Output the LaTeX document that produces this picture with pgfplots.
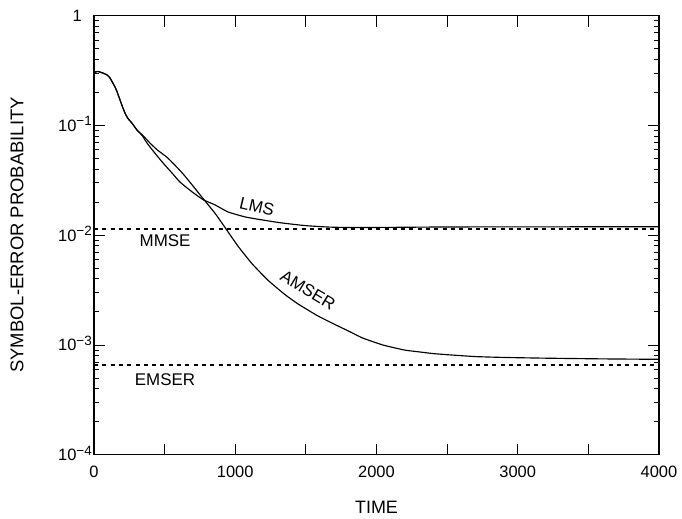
\documentclass[border=0pt]{standalone}
\usepackage{pgfplots}
\pgfplotsset{compat=1.18}
\usepackage{fontspec}
\setmainfont{Liberation Sans}
\newcommand{\ee}[1]{10\raisebox{5.5bp}{\fontsize{13.5}{13.5}\selectfont #1}}

\begin{document}
\begin{tikzpicture}
\useasboundingbox (0,0) rectangle (682bp,519bp);
\begin{axis}[
  at={(94bp,64.2bp)}, anchor=south west,
  width=565bp, height=439.1bp, scale only axis,
  ymode=log,
  xmin=0, xmax=4000, ymin=1e-4, ymax=1,
  xtick={0,500,...,4000},
  xticklabels={0,,1000,,2000,,3000,,4000},
  ytick={1e-4,1e-3,1e-2,1e-1,1},
  yticklabels={\ee{−4},\ee{−3},\ee{−2},\ee{−1},1\kern10bp},
  major tick length=11bp, minor tick length=5bp,
  axis line style={line width=1.3bp},
  every tick/.style={black, line width=1bp},
  tick label style={font=\fontsize{16.5}{16.5}\selectfont, inner sep=0pt},
  xticklabel style={anchor=base, yshift=-23bp},
  yticklabel style={anchor=base east, xshift=-2bp, yshift=-5.8bp},
  clip=false,
]
% LMS
\addplot[black, line width=1.15bp, smooth, tension=0.3] coordinates {
 (0,0.29) (8,0.307) (30,0.31) (64,0.30) (90,0.29) (113,0.271) (149,0.224)
 (165,0.200) (184,0.171) (200,0.150) (219,0.130) (240,0.116) (269,0.105) (304,0.091)
 (340,0.0813) (375,0.0692) (430,0.0562) (489,0.0455) (550,0.0372) (609,0.0305)
 (690,0.0251) (772,0.0211) (857,0.0189) (949,0.0163) (1069,0.0147) (1189,0.0138)
 (1331,0.01294) (1494,0.01225) (1650,0.01189) (1813,0.01175) (2100,0.0118)
 (2500,0.0119) (3000,0.01192) (3500,0.01194) (4000,0.01197)
};
% AMSER
\addplot[black, line width=1.15bp, smooth, tension=0.3] coordinates {
 (0,0.29) (8,0.307) (30,0.31) (64,0.30) (90,0.29) (113,0.271) (149,0.224)
 (165,0.200) (184,0.171) (200,0.150) (219,0.130) (240,0.116) (269,0.105) (304,0.091)
 (350,0.080) (396,0.0692) (450,0.0596) (517,0.0513) (575,0.0432) (630,0.0363)
 (700,0.0282) (772,0.0216) (857,0.01585) (928,0.01175) (1020,0.00794)
 (1119,0.00550) (1232,0.00389) (1352,0.00288) (1444,0.00237) (1579,0.00186)
 (1700,0.00155) (1813,0.00132) (1900,0.001161) (2046,0.001) (2200,0.000899)
 (2287,0.000871) (2400,0.000836) (2520,0.000813) (2700,0.000785)
 (2900,0.000771) (3200,0.000759) (3600,0.000748) (4000,0.000741)
};
% MMSE and EMSER levels
\addplot[black, line width=2bp, dash pattern=on 4bp off 4.3bp] coordinates {(0,0.0115) (4000,0.0115)};
\addplot[black, line width=2bp, dash pattern=on 4bp off 4.3bp] coordinates {(0,0.000655) (4000,0.000655)};

\node[font=\fontsize{17}{17}\selectfont] at (axis cs:503,0.00887) {MMSE};
\node[font=\fontsize{17}{17}\selectfont] at (axis cs:503,0.000481) {EMSER};
\node[font=\fontsize{17}{17}\selectfont, rotate=-13] at (axis cs:1154,0.0183) {LMS};
\node[font=\fontsize{17}{17}\selectfont, rotate=-31] at (axis cs:1515,0.00315) {AMSER};
\end{axis}
\node[font=\fontsize{18}{18}\selectfont] at (376.5bp,12bp) {TIME};
\node[font=\fontsize{18.5}{18.5}\selectfont, rotate=90] at (17bp,284bp) {SYMBOL-ERROR PROBABILITY};
\end{tikzpicture}
\end{document}
